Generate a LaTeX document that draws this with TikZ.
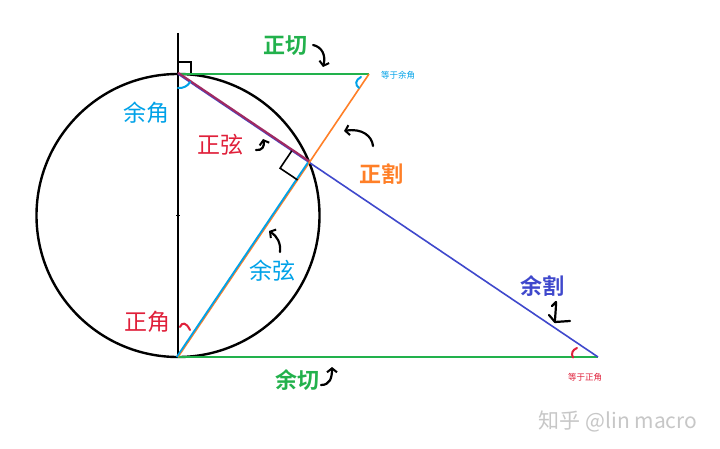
\documentclass[tikz,border=0pt]{standalone}
\usepackage{fontspec}
\newfontfamily\cjk{Noto Sans CJK SC}
\newfontfamily\cjkb{Noto Sans CJK SC Bold}
\usetikzlibrary{arrows.meta,calc}
\definecolor{pgreen}{HTML}{22B14C}
\definecolor{pcyan}{HTML}{00A2E8}
\definecolor{pred}{HTML}{E0203A}
\definecolor{porange}{HTML}{FF7F27}
\definecolor{pblue}{HTML}{3F48CC}
\definecolor{ppurple}{HTML}{A02A62}
\tikzset{
  lbl/.style={inner sep=0pt,font=\cjk\fontsize{23}{25}\selectfont},
  lblb/.style={inner sep=0pt,font=\cjkb\fontsize{22}{25}\selectfont},
  small/.style={inner sep=0pt,font=\cjk\fontsize{8.5}{9}\selectfont},
  harrow/.style={black,line width=2.2pt,line cap=round,line join=round,-{Straight Barb[length=4pt,width=10pt,line width=2pt]}},
  hline/.style={black,line width=2.2pt,line cap=round,line join=round},
  angmark/.style={line width=2pt,line cap=round},
}
\begin{document}
\begin{tikzpicture}[x=1pt,y=-1pt]
\useasboundingbox (0,0) rectangle (720,449);
\fill[white] (0,0) rectangle (720,449);
% key points
\coordinate (O) at (178,215.5);
\coordinate (T) at (178,74);
\coordinate (B) at (178,357);
\coordinate (P) at (309.2,162.5);
\coordinate (Ax) at (178,33);
\coordinate (Tn) at (369,74);
\coordinate (Ct) at (598,357);
% circle and axis
\draw[black,line width=2.4pt] (O) circle[radius=141.5pt];
\draw[black,line width=1.8pt] (Ax) -- (B);
\draw[black,line width=1.2pt] (176,215.5) -- (180,215.5);
% right angle at T
\draw[black,line width=1.6pt] (178,62) -- (191,62) -- (191,74);
% green lines
\draw[pgreen,line width=2pt] (T) -- (Tn);
\draw[pgreen,line width=2pt] (B) -- (Ct);
% blue cosecant and purple sine
\draw[pblue,line width=1.6pt] (T) -- (Ct);
\draw[ppurple,line width=2.2pt] ($(T)+(0,-1.2)$) -- ($(P)+(0,-1.2)$);
% orange secant and cyan cosine
\draw[porange,line width=1.6pt] (B) -- (Tn);
\draw[pcyan,line width=1.8pt] ($(B)+(-1.3,0)$) -- ($(P)+(-1.3,0)$);
% right angle at P
\draw[black,line width=1.6pt] (291.8,150.8) -- (280.1,168.2) -- (297.5,179.9);
% angle marks
\draw[pcyan,angmark] (178,88) .. controls (183,88.5) and (188,86) .. (190,82);
\draw[pcyan,angmark] (361,77) .. controls (355,80) and (355,85) .. (359,88);
\draw[pred,angmark] (577,348) .. controls (572,350) and (571,354) .. (573,357.5);
\draw[pred,angmark] (180,327) .. controls (182,322) and (186,322) .. (190,330);
% labels
\node[lblb,text=pgreen] (ltan) at (285,46) {正切};
\node[lbl,text=pcyan] (lcoang) at (146,113) {余角};
\node[lbl,text=pred] (lsin) at (220,145) {正弦};
\node[lblb,text=porange] (lsec) at (381,174) {正割};
\node[lbl,text=pcyan] (lcos) at (272,271) {余弦};
\node[lblb,text=pblue] (lcsc) at (542,286) {余割};
\node[lbl,text=pred] (lang) at (147,322) {正角};
\node[lblb,text=pgreen] (lcot) at (297,380) {余切};
\node[small,text=pcyan] (leq1) at (398,75) {等于余角};
\node[small,text=pred] (leq2) at (585,377) {等于正角};
\node[inner sep=0pt,text=black!22,font=\cjk\fontsize{21}{23}\selectfont] (wm) at (618,421) {知乎 @lin macro};
% hand-drawn arrows
\draw[harrow] (313,45) .. controls (322,47) and (326,55) .. (323,67);
\draw[harrow] (256,150) .. controls (262,151) and (265,146) .. (263,139);
\draw[harrow] (373,146) .. controls (372,136) and (362,128) .. (344,131);
\draw[harrow] (280,252) .. controls (281,243) and (277,236) .. (269,231);
\draw[harrow] (321,385) .. controls (330,385) and (332,378) .. (332,367);
\draw[hline] (552,306) -- (556,302) .. controls (556,310) and (555,316) .. (555,322);
\draw[hline] (549,315) -- (555,322) -- (570,321);
\end{tikzpicture}
\end{document}
